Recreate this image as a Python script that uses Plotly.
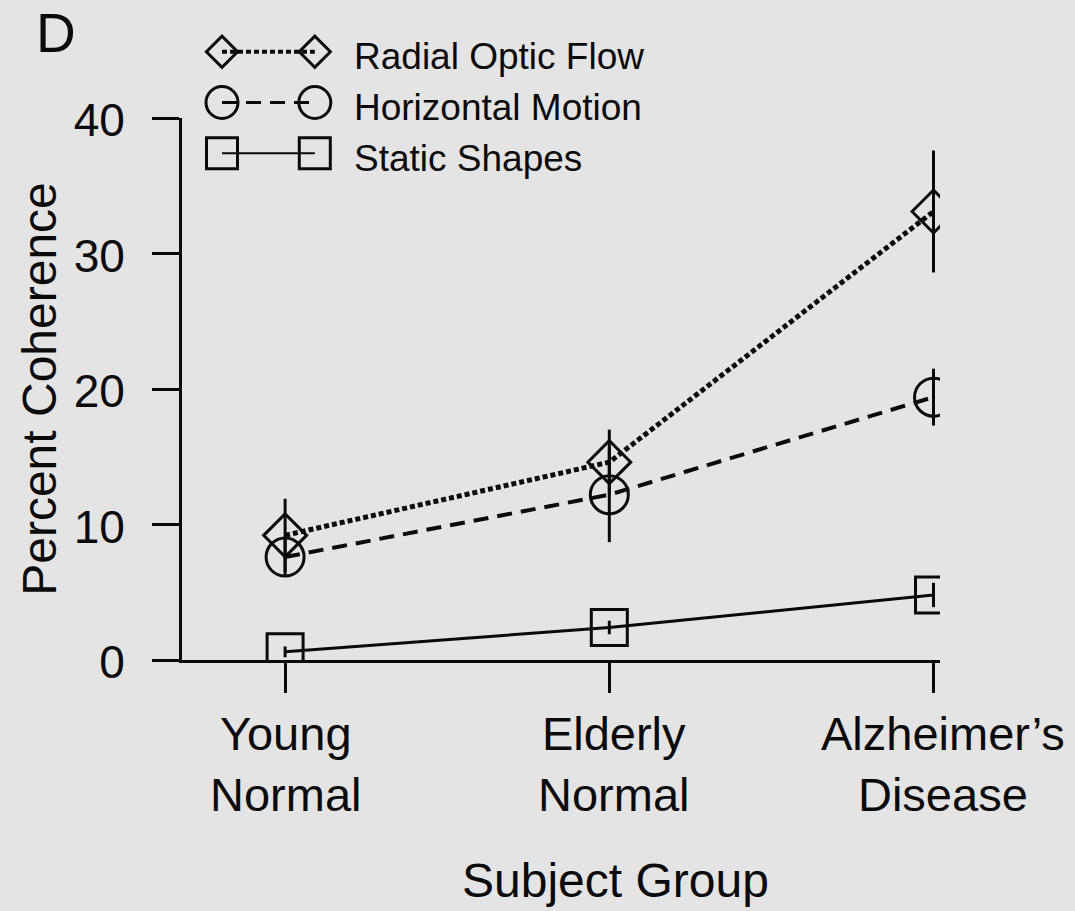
import plotly.graph_objects as go

# ---- data -------------------------------------------------------------
groups = ["Young<br>Normal", "Elderly<br>Normal", "Alzheimer’s<br>Disease"]

series_names = ["Radial Optic Flow", "Horizontal Motion", "Static Shapes"]
radial_mean = [9.2, 14.6, 33.1]
radial_err = [2.7, 2.4, 4.5]
horizontal_mean = [7.6, 12.2, 19.4]
horizontal_err = [1.4, 3.5, 2.1]
static_mean = [0.6, 2.4, 4.8]
static_err = [0.4, 0.5, 0.9]

y_ticks = [0, 10, 20, 30, 40]

x_title = "Subject Group"
y_title = "Percent Coherence"

# ---- styling ----------------------------------------------------------
W, H = 1075, 911
FONT = "Liberation Sans, Arial, Helvetica, sans-serif"
INK = "#0a0a0a"
BG = "#e4e4e4"

def px_x(p):
    return p / W

def px_y(p):
    return 1 - p / H

styles = [
    dict(symbol="diamond-open", size=33, key_size=24, dash="5px,3px", width=5),
    dict(symbol="circle-open", size=38, key_size=32, dash="15px,9px", width=4),
    dict(symbol="square-open", size=36, key_size=31, dash="solid", width=3),
]
means = [radial_mean, horizontal_mean, static_mean]
errs = [radial_err, horizontal_err, static_err]
label_shift = [0, 4, 9]

x_idx = list(range(len(groups)))

fig = go.Figure()

# main series, drawn bottom-up so the top curves sit above
for i in reversed(range(len(series_names))):
    st = styles[i]
    fig.add_trace(go.Scatter(
        x=x_idx, y=means[i], name=series_names[i],
        mode="lines+markers",
        line=dict(color=INK, width=st["width"], dash=st["dash"]),
        marker=dict(symbol=st["symbol"], size=st["size"], color=INK,
                    line=dict(color=INK, width=3)),
        error_y=dict(type="data", array=errs[i], visible=True,
                     thickness=3, width=0, color=INK),
        xaxis="x", yaxis="y", showlegend=False, hoverinfo="skip",
    ))

# key: two symbols joined by the series line
key_rows = [0.15, 0.5, 0.85]
for i, name in enumerate(series_names):
    st = styles[i]
    fig.add_trace(go.Scatter(
        x=[0.2, 0.78], y=[key_rows[i]] * 2,
        mode="lines+markers",
        line=dict(color=INK, width=st["width"] - 1, dash=st["dash"]),
        marker=dict(symbol=st["symbol"], size=st["key_size"], color=INK,
                    line=dict(color=INK, width=3)),
        xaxis="x2", yaxis="y2", showlegend=False, hoverinfo="skip",
    ))

annotations = []
for i, name in enumerate(series_names):
    annotations.append(dict(
        text=name, xref="paper", yref="y2", x=px_x(352), y=key_rows[i],
        xanchor="left", yanchor="middle", yshift=-5, showarrow=False,
        font=dict(family=FONT, size=37, color=INK)))

# two-line group labels under each category
for k, label in enumerate(groups):
    annotations.append(dict(
        text=label, xref="x", yref="paper", x=k, y=px_y(764),
        xanchor="center", yanchor="middle", xshift=label_shift[k],
        showarrow=False,
        font=dict(family=FONT, size=47, color=INK)))

# x-axis title
annotations.append(dict(
    text=x_title, xref="paper", yref="paper", x=px_x(615), y=px_y(880),
    xanchor="center", yanchor="middle", showarrow=False,
    font=dict(family=FONT, size=48, color=INK)))

# panel letter
annotations.append(dict(
    text="D", xref="paper", yref="paper", x=px_x(34), y=1,
    xanchor="left", yanchor="top", showarrow=False,
    font=dict(family=FONT, size=55, color=INK)))

axis_common = dict(showgrid=False, zeroline=False, showline=True,
                   linecolor=INK, linewidth=3, ticks="outside",
                   tickcolor=INK, tickwidth=3, automargin=False)

fig.update_layout(
    width=W, height=H,
    margin=dict(l=0, r=0, t=0, b=0),
    paper_bgcolor=BG, plot_bgcolor=BG,
    font=dict(family=FONT, color=INK),
    xaxis=dict(domain=[px_x(182), px_x(940)], range=[-0.318, 2.02],
               tickvals=x_idx, ticklen=30, showticklabels=False,
               anchor="y", **axis_common),
    yaxis=dict(domain=[px_y(660), px_y(118)], range=[0, 40],
               tickvals=y_ticks, ticklen=27, anchor="x",
               tickfont=dict(family=FONT, size=46, color=INK),
               ticklabelstandoff=18, ticklabelshift=2,
               title=dict(text=y_title, standoff=2,
                          font=dict(family=FONT, size=48, color=INK)),
               **axis_common),
    xaxis2=dict(domain=[px_x(190), px_x(350)], range=[0, 1],
                visible=False, anchor="y2", fixedrange=True),
    yaxis2=dict(domain=[px_y(175), px_y(30)], range=[1, 0],
                visible=False, anchor="x2", fixedrange=True),
    annotations=annotations,
)

fig.write_html("out.html")
